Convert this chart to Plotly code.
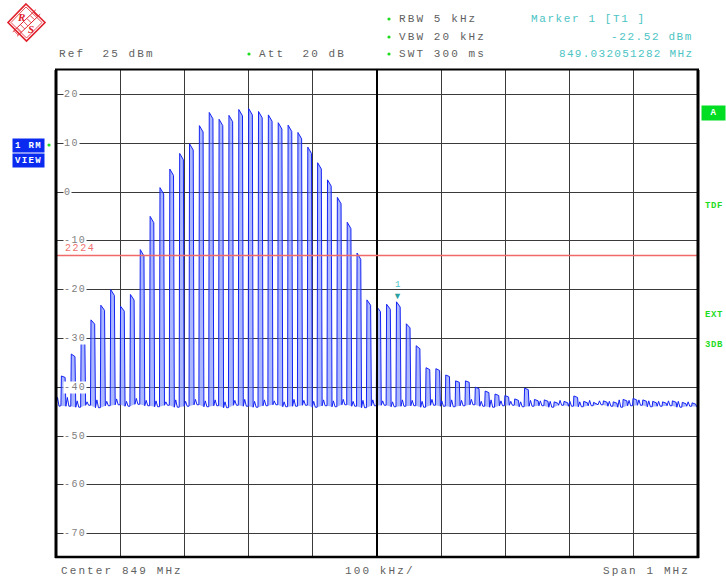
import plotly.graph_objects as go

# ---------------- data ----------------
peak_dbm = [-37.7, -33.2, -30.1, -26.2, -23.2, -20.0, -23.4, -21.0, -11.8, -5.0,
            0.9, 4.7, 7.9, 9.9, 13.6, 16.3, 14.9, 15.7, 16.9, 17.1,
            16.5, 15.8, 14.2, 13.7, 12.2, 9.2, 6.0, 2.5, -1.1, -6.2,
            -12.5, -22.1, -23.5, -23.0, -22.5, -27.0, -31.5, -36.0, -36.2, -37.5,
            -38.7, -38.7, -40.0, -40.8, -41.4, -41.7, -42.4, -40.2, -42.5, -42.6,
            -43.0, -42.9, -41.8, -42.9, -43.1, -42.8, -43.0, -42.5, -42.3, -42.6,
            -42.9, -43.0, -42.8, -43.1, -43.2]
floor_dbm = [-43.9, -44.1, -43.7, -44.2, -43.8, -43.6, -43.9, -43.5, -43.8, -44.0,
             -43.7, -44.1, -43.9, -43.6, -44.0, -43.8, -44.2, -43.7, -43.9, -44.1,
             -43.8, -43.6, -44.0, -43.9, -43.7, -44.1, -43.8, -44.0, -43.6, -43.9,
             -44.2, -43.8, -43.7, -44.0, -43.9, -43.8, -44.1, -43.7, -43.9, -44.0,
             -43.8, -43.6, -43.9, -44.1, -43.8, -43.7, -44.0, -43.9, -43.8, -44.1,
             -43.7, -43.9, -44.0, -43.8, -43.6, -43.9, -44.1, -43.8, -43.7, -44.0,
             -43.9, -43.8, -44.1, -43.9, -44.0]
shoulder_dbm = [-42.1, -42.8, -43.0, -42.6, -42.9, -42.4, -42.9, -42.3, -42.7, -42.8,
                -43.0, -42.6, -42.9, -42.5, -42.8, -42.6, -43.0, -42.7, -42.5, -42.9,
                -42.6, -42.8, -43.0, -42.5, -42.7, -42.9, -42.6, -42.8, -42.5, -42.9,
                -42.7, -42.6, -42.8, -43.0, -42.6, -42.7, -42.9, -42.5, -42.8, -42.6,
                -42.7, -42.5, -42.9, -42.6, -42.8, -42.9, -43.0, -42.7, -42.8, -42.9,
                -42.7, -42.9, -43.0, -42.7, -42.8, -42.9, -42.6, -42.7, -42.6, -42.8,
                -42.9, -42.8, -42.9, -43.0, -43.1]
lead_dbm = [-43.6, -42.1, -43.9, -43.8]
f_first_mhz = 848.5114
f_step_mhz = 0.01535
center_mhz = 849.0
span_mhz = 1.0
ref_dbm = 25
bottom_dbm = -75
grid_labels_db = [20, 10, 0, -10, -20, -30, -40, -50, -60, -70]
display_line_dbm = -13
marker_mhz = 849.032051282
marker_dbm = -22.52

# ---------------- geometry ----------------
W, H = 726, 578
L, R, T, B = 56, 28, 70, 20
PW, PH = W - L - R, H - T - B
mpp = span_mhz / PW
x_lo, x_hi = center_mhz - span_mhz / 2, center_mhz + span_mhz / 2


def P(px, py):
    return (px - L) / PW, (H - B - py) / PH


# ---------------- trace ----------------
xs = [x_lo + i * 1.5 * mpp for i in range(len(lead_dbm))]
ys = list(lead_dbm)
fxs, fys = [], []
prev = lead_dbm[-1]
for k, pk in enumerate(peak_dbm):
    c = f_first_mhz + k * f_step_mhz
    drop = min(1.3, max(0.3, (pk - prev) * 0.05))
    sx = [c - 2.4 * mpp, c - 1.9 * mpp, c + 1.8 * mpp, c + 2.6 * mpp]
    sy = [prev, pk, pk - drop, floor_dbm[k]]
    xs += sx
    ys += sy
    fxs += sx + [None]
    fys += sy + [None]
    xs += [c + 4.0 * mpp, c + 5.6 * mpp]
    ys += [shoulder_dbm[k], floor_dbm[k]]
    prev = floor_dbm[k]
pts = [(a, b) for a, b in zip(xs, ys) if a <= x_hi]
xs = [a for a, _ in pts] + [x_hi]
ys = [b for _, b in pts] + [prev]

fig = go.Figure()
fig.add_trace(go.Scatter(x=fxs, y=fys, mode="lines", fill="toself",
                         fillcolor="rgba(115,135,255,0.6)", line=dict(width=0),
                         hoverinfo="skip", showlegend=False))
fig.add_trace(go.Scatter(x=xs, y=ys, mode="lines",
                         line=dict(color="#1424f2", width=1.0),
                         showlegend=False))

MONO = "Liberation Mono"
GRAY = "#5f5f5f"
TEAL = "#4cc4c4"
GREEN = "#1edc1e"


def sp(s, ls=2.1):
    return '<span style="letter-spacing:%spx">%s</span>' % (ls, s.replace("  ", "\u00a0\u00a0"))


ann = []
shapes = []


def text(px, py, s, color=GRAY, size=11, anchor="left", ls=2.1, **kw):
    x, y = P(px, py)
    ann.append(dict(x=x, y=y, xref="paper", yref="paper", text=sp(s, ls), showarrow=False,
                    xanchor=anchor, yanchor="middle",
                    font=dict(family=MONO, size=size, color=color), **kw))


def dot(px, py, r=1.6, color=GREEN):
    x0, y0 = P(px - r, py + r)
    x1, y1 = P(px + r, py - r)
    shapes.append(dict(type="circle", xref="paper", yref="paper", x0=x0, y0=y0, x1=x1, y1=y1,
                       fillcolor=color, line=dict(width=0)))


# header texts
text(57, 54, "Ref  25 dBm")
dot(249, 54)
text(257, 54, "Att  20 dB")
dot(389, 19)
text(397, 19, "RBW 5 kHz")
dot(389, 37)
text(397, 37, "VBW 20 kHz")
dot(389, 54)
text(397, 54, "SWT 300 ms")
text(529, 19, "Marker 1 [T1 ]", color=TEAL, ls=1.6)
text(695, 37, "-22.52 dBm", color=TEAL, anchor="right", ls=1.6)
text(695, 54, "849.032051282 MHz", color=TEAL, anchor="right", ls=1.3)

# footer texts
text(59, 571, "Center 849 MHz")
text(343, 571, "100 kHz/")
text(692, 571, "Span 1 MHz", anchor="right")

# y labels inside the grid
for v in grid_labels_db:
    ann.append(dict(x=(63 - L) / PW, y=v, xref="paper", yref="y", text=sp(str(v), 1.4),
                    showarrow=False, xanchor="left", yanchor="middle", bgcolor="white",
                    borderpad=0, font=dict(family=MONO, size=10, color="#808080")))

# display line label
ann.append(dict(x=(63 - L) / PW, y=display_line_dbm, xref="paper", yref="y", text=sp("2224", 1.6),
                showarrow=False, xanchor="left", yanchor="bottom", yshift=-1,
                font=dict(family=MONO, size=10, color="#f07070")))

# marker
ann.append(dict(x=marker_mhz, y=marker_dbm, xref="x", yref="y", text="\u25bc", showarrow=False,
                yanchor="bottom", yshift=-2, font=dict(size=9, color="#2aa0a0")))
ann.append(dict(x=marker_mhz, y=marker_dbm, xref="x", yref="y", text="1", showarrow=False,
                yanchor="bottom", yshift=10, font=dict(family=MONO, size=9, color=TEAL)))

# left boxes
for label, cy in [("1 RM", 145), ("VIEW", 160)]:
    x, y = P(12, cy)
    ann.append(dict(x=x, y=y, xref="paper", yref="paper", text="<b>%s</b>" % sp(label, 1.4),
                    showarrow=False, xanchor="left", yanchor="middle", bgcolor="#0a2af0",
                    width=31, height=13, borderpad=0, align="center",
                    font=dict(family=MONO, size=9, color="white")))
dot(49, 145)

# right side indicators
x, y = P(701, 113)
ann.append(dict(x=x, y=y, xref="paper", yref="paper", text="<b>A</b>", showarrow=False,
                xanchor="left", yanchor="middle", bgcolor="#00dd22", width=23, height=14,
                borderpad=0, font=dict(family=MONO, size=9, color="white")))
for s, cy in [("TDF", 206), ("EXT", 315), ("3DB", 345)]:
    x, y = P(703, cy)
    ann.append(dict(x=x, y=y, xref="paper", yref="paper", text="<b>%s</b>" % sp(s, 0.6),
                    showarrow=False, xanchor="left", yanchor="middle",
                    font=dict(family=MONO, size=9, color=GREEN)))

# grid emphasis / borders
shapes.append(dict(type="line", xref="x", yref="paper", x0=center_mhz, x1=center_mhz, y0=0, y1=1,
                   line=dict(color="black", width=2)))
shapes.append(dict(type="line", xref="x", yref="y", x0=x_lo, x1=x_hi, y0=display_line_dbm,
                   y1=display_line_dbm, line=dict(color="#f06a6a", width=1.4)))
for x0, y0, x1, y1, w in [(56, 70, 56, 558, 3), (698, 70, 698, 558, 3),
                          (55, 557, 699, 557, 2.5), (55, 69.5, 699, 69.5, 2)]:
    a0, b0 = P(x0, y0)
    a1, b1 = P(x1, y1)
    shapes.append(dict(type="line", xref="paper", yref="paper", x0=a0, y0=b0, x1=a1, y1=b1,
                       line=dict(color="black", width=w)))


# R&S logo
def path(pts_px, close=True):
    s = ""
    for i, (a, b) in enumerate(pts_px):
        u, v = P(a, b)
        s += ("M" if i == 0 else "L") + "%.5f,%.5f" % (u, v)
    return s + ("Z" if close else "")


RED = "#e0202a"
shapes.append(dict(type="path", xref="paper", yref="paper",
                   path=path([(26, 4), (45, 22.5), (26.5, 41), (8, 22.5)]),
                   line=dict(color=RED, width=1.6)))
shapes.append(dict(type="path", xref="paper", yref="paper",
                   path=path([(26, 7), (42, 22.5), (26.5, 38), (11, 22.5)]),
                   line=dict(color=RED, width=0.8)))
for off in (-2.2, 2.2):
    shapes.append(dict(type="path", xref="paper", yref="paper",
                       path=path([(38 + off, 12 + off), (15 + off, 34 + off)], close=False),
                       line=dict(color=RED, width=1)))
for t in range(7):
    cx, cy = 35.5 - t * 3.2, 14.5 + t * 3.1
    shapes.append(dict(type="path", xref="paper", yref="paper",
                       path=path([(cx - 2, cy - 2), (cx + 2, cy + 2)], close=False),
                       line=dict(color=RED, width=0.8)))
for s, cx, cy in [("R", 21, 17), ("S", 31, 29)]:
    x, y = P(cx, cy)
    ann.append(dict(x=x, y=y, xref="paper", yref="paper", text="<b><i>%s</i></b>" % s,
                    showarrow=False, xanchor="center", yanchor="middle",
                    font=dict(family="Liberation Serif", size=11, color=RED)))

fig.update_layout(
    width=W, height=H, margin=dict(l=L, r=R, t=T, b=B),
    paper_bgcolor="white", plot_bgcolor="white",
    xaxis=dict(range=[x_lo, x_hi], tick0=x_lo, dtick=span_mhz / 10, showgrid=True,
               gridcolor="#3a3a3a", gridwidth=1, showticklabels=False, zeroline=False,
               showline=False, ticks=""),
    yaxis=dict(range=[bottom_dbm, ref_dbm], tick0=-70, dtick=10, showgrid=True,
               gridcolor="#3a3a3a", gridwidth=1, showticklabels=False, zeroline=False,
               showline=False, ticks=""),
    annotations=ann, shapes=shapes, showlegend=False,
)
fig.write_html("out.html", config={"displayModeBar": False},
               post_script="document.body.style.margin='0';document.body.style.overflow='hidden';")
